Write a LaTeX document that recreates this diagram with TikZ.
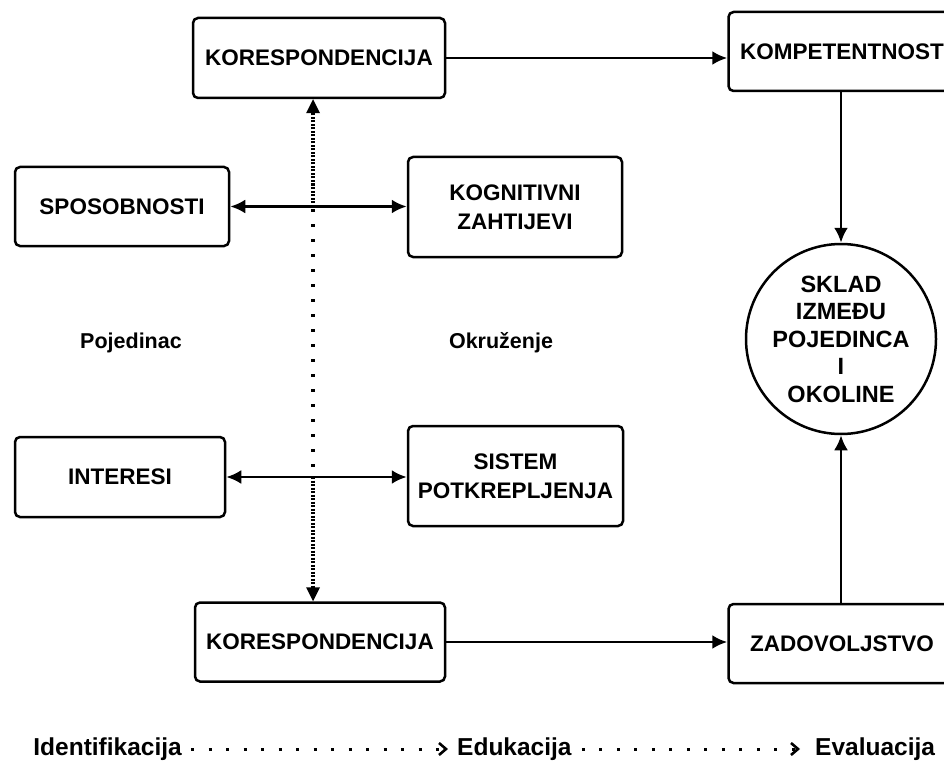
\documentclass[tikz,border=0pt]{standalone}
\usepackage{fontspec}
\setmainfont{Liberation Sans}
\usetikzlibrary{arrows.meta}

\tikzset{
  box/.style={draw, line width=2.5pt, rounded corners=5pt, inner sep=0pt, align=center,
    font=\bfseries\fontsize{22.5}{29}\selectfont},
  ring/.style={draw, circle, line width=2.5pt, inner sep=0pt, minimum size=190pt, align=center,
    font=\bfseries\fontsize{23.5}{27.5}\selectfont},
  side/.style={font=\bfseries\fontsize{21.5}{25}\selectfont},
  stage/.style={inner sep=0pt, font=\bfseries\fontsize{24.5}{28}\selectfont},
  link/.style={line width=2.8pt, -{Latex[length=15pt,width=14pt]}},
  twoway/.style={line width=2.8pt, {Latex[length=15pt,width=14pt]}-{Latex[length=15pt,width=14pt]}},
  dense/.style={line width=3.2pt, dash pattern=on 2pt off 1.5pt},
  sparse/.style={line width=3.2pt, dash pattern=on 3pt off 12pt},
  flow/.style={line width=3pt, dash pattern=on 3pt off 14.5pt,
    -{Straight Barb[length=7pt,width=12pt,line width=2.6pt]}}
}

\begin{document}
\begin{tikzpicture}[x=1pt, y=-1pt]
  \useasboundingbox (0,0) rectangle (944,762);
  \clip (0,0) rectangle (944,762);

  % boxes
  \node[box, minimum width=252pt, minimum height=80pt] (kor1) at (319,58) {KORESPONDENCIJA};
  \node[box, minimum width=227pt, minimum height=79pt] (komp) at (842,51.5) {KOMPETENTNOST};
  \node[box, minimum width=214pt, minimum height=79pt] (spos) at (122,206.5) {SPOSOBNOSTI};
  \node[box, minimum width=214pt, minimum height=100pt] (kogn) at (515,207) {KOGNITIVNI\\ZAHTIJEVI};
  \node[box, minimum width=210pt, minimum height=80pt] (inter) at (120,477) {INTERESI};
  \node[box, minimum width=215pt, minimum height=100pt] (sist) at (515.5,476) {SISTEM\\POTKREPLJENJA};
  \node[box, minimum width=250pt, minimum height=79pt] (kor2) at (320,642) {KORESPONDENCIJA};
  \node[box, minimum width=227pt, minimum height=79pt] (zad) at (842,643.5) {ZADOVOLJSTVO};
  \node[ring] (sklad) at (841,339) {SKLAD\\IZMEĐU\\POJEDINCA\\I\\OKOLINE};

  % side labels
  \node[side] (poj) at (131,343) {Pojedinac};
  \node[side] (okr) at (501,343) {Okruženje};

  % connectors
  \draw[link] (kor1.east) -- (kor1.east -| komp.west);
  \draw[link] (komp.south -| sklad.north) -- (sklad.north);
  \draw[link] (zad.north -| sklad.south) -- (sklad.south);
  \draw[link] (kor2.east) -- (kor2.east -| zad.west);
  \draw[twoway] (spos.east) -- (spos.east -| kogn.west);
  \draw[twoway] (inter.east) -- (inter.east -| sist.west);

  % dotted axis
  \coordinate (upcross) at (313,203);
  \coordinate (lowcross) at (313,477);
  \draw[dense] (upcross) -- ([yshift=-10pt]upcross |- kor1.south);
  \draw[sparse] ([yshift=-6pt]upcross) -- ([yshift=4pt]lowcross);
  \draw[dense] (lowcross) -- ([yshift=10pt]lowcross |- kor2.north);
  \fill ([xshift=-7pt,yshift=-14pt]upcross |- kor1.south) -- (upcross |- kor1.south)
    -- ([xshift=7pt,yshift=-14pt]upcross |- kor1.south) -- cycle;
  \fill ([xshift=-7pt,yshift=14pt]lowcross |- kor2.north) -- (lowcross |- kor2.north)
    -- ([xshift=7pt,yshift=14pt]lowcross |- kor2.north) -- cycle;

  % stages
  \node[stage, anchor=base east] (ident) at (182,755) {Identifikacija};
  \node[stage, anchor=base west] (eduk) at (457,755) {Edukacija};
  \node[stage, anchor=base west] (eval) at (815,755) {Evaluacija};
  \draw[flow] ([xshift=9pt,yshift=6pt]ident.base east) -- ([xshift=-9pt,yshift=6pt]eduk.base west);
  \draw[flow] ([xshift=10pt,yshift=6pt]eduk.base east) -- ([xshift=-15pt,yshift=6pt]eval.base west);
\end{tikzpicture}
\end{document}
